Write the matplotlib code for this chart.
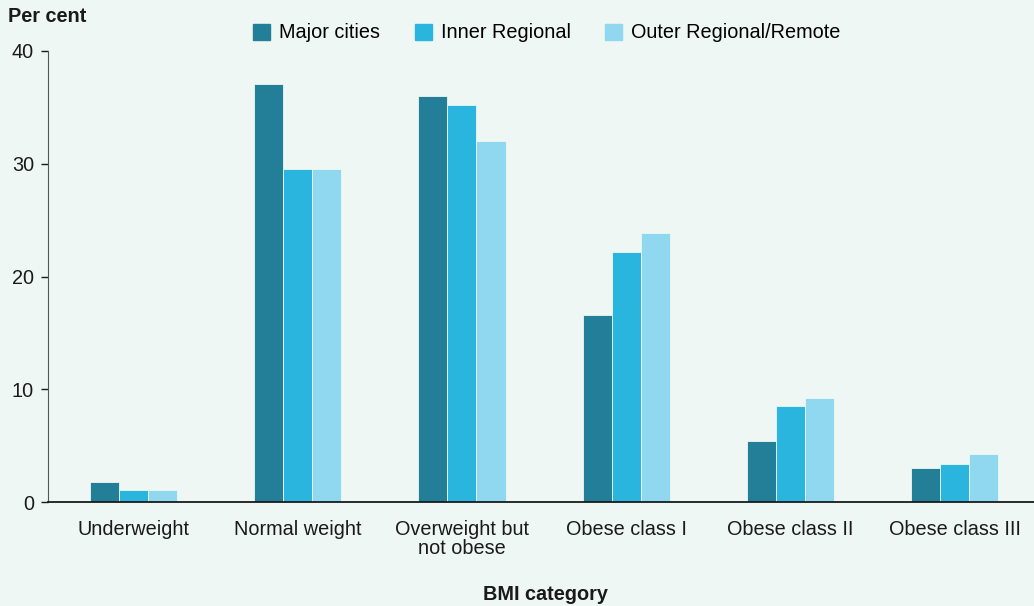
import numpy as np
import matplotlib.pyplot as plt
import matplotlib.patches as mpatches

plt.rcParams['font.family'] = ['Liberation Sans', 'DejaVu Sans']

# Data
categories = ['Underweight', 'Normal weight', 'Overweight but\nnot obese',
              'Obese class I', 'Obese class II', 'Obese class III']
series = ['Major cities', 'Inner Regional', 'Outer Regional/Remote']
major = [1.8, 37.1, 36.0, 16.6, 5.4, 3.0]
inner = [1.1, 29.5, 35.2, 22.2, 8.5, 3.4]
outer = [1.1, 29.5, 32.0, 23.9, 9.2, 4.3]
colors = ['#237F97', '#29B5DE', '#8FD8F0']
bg = '#EEF7F3'
fs = 14.3

fig = plt.figure(figsize=(10.34, 6.06), dpi=100, facecolor=bg)
ax = fig.add_axes([48/1034, 104/606, 1 - 48/1034, 451/606], facecolor=bg)

x = np.arange(len(categories))
w = 0.177
for i, (vals, c) in enumerate(zip([major, inner, outer], colors)):
    ax.bar(x + (i - 1) * w, vals, w, color=c, edgecolor=bg, linewidth=0.6)

ax.set_xlim(-0.521, 5.484)
ax.set_ylim(0, 40)
ax.set_yticks([0, 10, 20, 30, 40])
ax.set_xticks(x)
ax.set_xticklabels(categories, fontsize=fs, color='#1a1a1a', linespacing=1.0)
ax.tick_params(axis='x', length=0, pad=13)
ax.tick_params(axis='y', length=5, width=1, labelsize=fs, colors='#1a1a1a', pad=5)
for s in ['top', 'right']:
    ax.spines[s].set_visible(False)
ax.spines['left'].set_color('#555555')
ax.spines['bottom'].set_color('#1a1a1a')
ax.spines['bottom'].set_linewidth(1.3)

fig.text(8/1034, 1 - 16/606, 'Per cent', fontsize=fs, fontweight='bold',
         va='center', ha='left', color='#1a1a1a')
fig.text(545/1034, 1 - 594/606, 'BMI category', fontsize=fs, fontweight='bold',
         va='center', ha='center', color='#1a1a1a')

handles = [mpatches.Patch(color=c, label=s) for c, s in zip(colors, series)]
fig.legend(handles=handles, loc='center', bbox_to_anchor=(547/1034, 1 - 33/606),
           ncol=3, frameon=False, fontsize=fs, handlelength=0.85, handleheight=0.85,
           handletextpad=0.45, columnspacing=1.75)

fig.savefig('out.png', dpi=100, facecolor=bg)
